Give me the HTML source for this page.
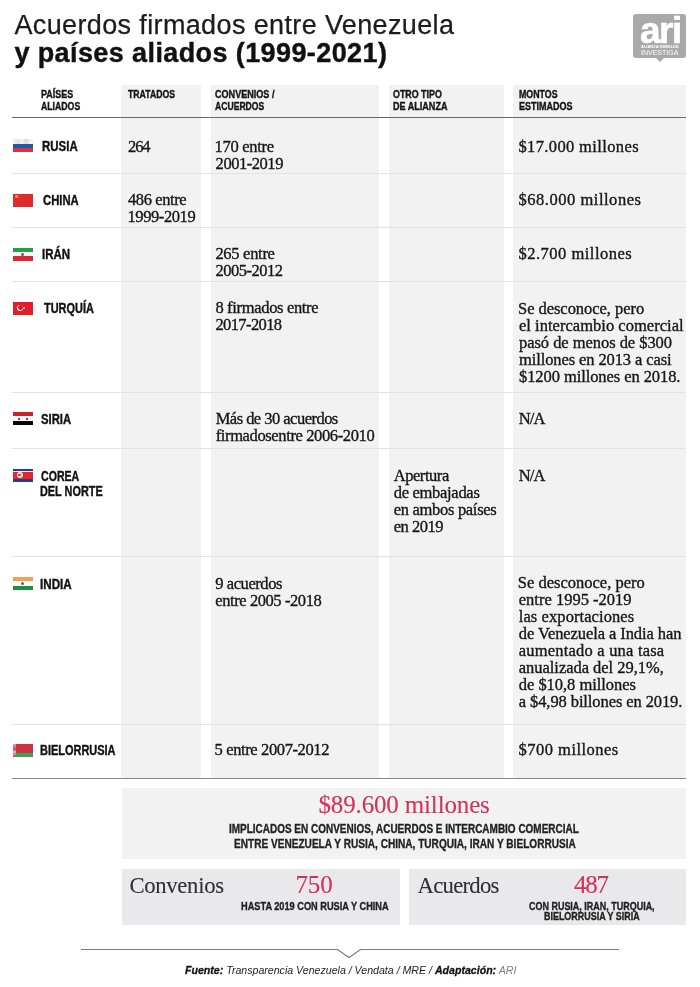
<!DOCTYPE html>
<html lang="es">
<head>
<meta charset="utf-8">
<title>Acuerdos firmados entre Venezuela y países aliados (1999-2021)</title>
<style>
*{margin:0;padding:0;box-sizing:border-box}
html,body{width:700px;height:987px;background:#fff;overflow:hidden}
body{position:relative;font-family:"Liberation Sans",Arial,sans-serif;color:#1a1a1a}
.abs{position:absolute}
.a{position:absolute;white-space:nowrap;transform-origin:0 0}
.col{position:absolute;top:85px;height:693px;background:#f2f2f2}
.hl{position:absolute;left:12px;width:674px}
.sep{height:1px;background:#e3e3e3}
.flag{position:absolute;left:13px;width:20px;height:13px;overflow:hidden}

.tx{font-family:"Liberation Serif","Times New Roman",serif;font-size:16.5px;line-height:20px;color:#161616;-webkit-text-stroke:.35px #161616}
.nm{font-family:"Liberation Sans",Arial,sans-serif;font-size:14px;line-height:18px;font-weight:bold;color:#111;-webkit-text-stroke:.4px #111}
.hd{font-family:"Liberation Sans",Arial,sans-serif;font-size:11px;line-height:14px;font-weight:bold;color:#161616;-webkit-text-stroke:.4px #161616}
.red{font-family:"Liberation Serif","Times New Roman",serif;font-size:25px;line-height:28px;color:#d63058;-webkit-text-stroke:.1px #d63058}
.big{font-family:"Liberation Serif","Times New Roman",serif;font-size:22.7px;line-height:26px;color:#303030;-webkit-text-stroke:.1px #303030}
.cap{font-family:"Liberation Sans",Arial,sans-serif;font-size:12.3px;line-height:14px;font-weight:bold;color:#222;-webkit-text-stroke:.35px #222}
.caps{font-family:"Liberation Sans",Arial,sans-serif;font-size:11px;line-height:13px;font-weight:bold;color:#222;-webkit-text-stroke:.35px #222}
.foot{font-family:"Liberation Sans",Arial,sans-serif;font-size:11.5px;line-height:14px;font-style:italic;color:#222}
.foot b{-webkit-text-stroke:.3px #111;color:#111}
.foot .ari{color:#808080}
.t1{font-family:"Liberation Sans",Arial,sans-serif;font-size:27px;line-height:30px;color:#1c1c1c;-webkit-text-stroke:.25px #1c1c1c}
.t2{font-family:"Liberation Sans",Arial,sans-serif;font-size:27px;line-height:30px;font-weight:bold;color:#111;-webkit-text-stroke:.4px #111}

</style>
</head>
<body>
<!-- logo -->
<div class="abs" style="left:633px;top:14px;width:53px;height:44px;background:#a9a9a9;border-radius:3px"></div>
<div class="abs" style="left:655px;top:57px;width:0;height:0;border-left:5px solid transparent;border-right:5px solid transparent;border-top:5px solid #a9a9a9"></div>
<div class="abs" style="left:640px;top:11.7px;font-size:37px;line-height:37px;font-weight:bold;color:#fff;letter-spacing:-1.5px;transform:scaleX(1);transform-origin:0 0;-webkit-text-stroke:.6px #fff">ari</div>
<div class="abs" style="left:641px;top:45px;font-size:4px;line-height:4px;font-weight:bold;color:#fff;white-space:nowrap">ALIANZA REBELDE</div>
<div class="abs" style="left:641px;top:49px;font-size:7px;line-height:7px;color:#fff;white-space:nowrap">INVESTIGA</div>

<!-- gray columns -->
<div class="col" style="left:121px;width:80px"></div>
<div class="col" style="left:211px;width:168px"></div>
<div class="col" style="left:389px;width:115px"></div>
<div class="col" style="left:513px;width:173px"></div>

<!-- lines -->
<div class="hl" style="top:116.7px;height:1.5px;background:#6a6a6a"></div>
<div class="hl sep" style="top:173px"></div>
<div class="hl sep" style="top:227px"></div>
<div class="hl sep" style="top:281px"></div>
<div class="hl sep" style="top:392px"></div>
<div class="hl sep" style="top:448px"></div>
<div class="hl sep" style="top:556px"></div>
<div class="hl sep" style="top:724px"></div>
<div class="hl" style="top:777.5px;height:1.5px;background:#888"></div>

<!-- flags -->
<div class="flag" style="top:139.3px;height:13.2px"><div style="height:4.4px;background:linear-gradient(90deg,#f2f2f2 0,#e4e4e4 30%,#f6f6f6 45%,#d8d8d8 65%,#f4f4f4 85%)"></div><div style="height:4.3px;background:#2157a7"></div><div style="height:4.5px;background:#d8313f"></div></div>
<div class="flag" style="top:193.6px;background:#dc2c2b"><div style="position:absolute;left:1.6px;top:1.8px;width:3px;height:3px;border-radius:50%;background:#f59a5a"></div><div style="position:absolute;left:4.8px;top:1.2px;width:1px;height:1px;background:#eb7a4a"></div><div style="position:absolute;left:5.6px;top:3px;width:1px;height:1px;background:#eb7a4a"></div></div>
<div class="flag" style="top:247.6px"><div style="height:4.2px;background:#26a048"></div><div style="height:4.4px;background:#f8f8f8;position:relative"><div style="position:absolute;left:8px;top:0.8px;width:3px;height:3px;background:#a85a6a;border-radius:1px"></div></div><div style="height:4.4px;background:#d62a36"></div></div>
<div class="flag" style="top:301.5px;background:#e21e2a"><div style="position:absolute;left:3.8px;top:3.3px;width:6px;height:6px;border-radius:50%;background:#fff"></div><div style="position:absolute;left:5.2px;top:3.9px;width:4.8px;height:4.8px;border-radius:50%;background:#c81a2c"></div><div style="position:absolute;left:10.2px;top:5.3px;width:2.3px;height:2.3px;border-radius:50%;background:#fbe3e3"></div></div>
<div class="flag" style="top:412.1px"><div style="height:4.3px;background:#c9232f"></div><div style="height:4.4px;background:#f7f7f7;position:relative"><div style="position:absolute;left:5px;top:1.3px;width:2px;height:2px;background:#556a55"></div><div style="position:absolute;left:13px;top:1.3px;width:2px;height:2px;background:#556a55"></div></div><div style="height:4.3px;background:#050505"></div></div>
<div class="flag" style="top:468.9px;height:12.7px;background:#233f8c"><div style="position:absolute;left:0;top:2.2px;width:20px;height:8.3px;background:#f3e6ea"></div><div style="position:absolute;left:0;top:2.9px;width:20px;height:6.9px;background:#e8242c"></div><div style="position:absolute;left:3.5px;top:3.3px;width:6px;height:6px;border-radius:50%;background:#f6e2e2"></div><div style="position:absolute;left:5.2px;top:5px;width:2.6px;height:2.6px;border-radius:50%;background:#c0303a"></div></div>
<div class="flag" style="top:577px;height:12.8px"><div style="height:4.3px;background:#f1a24e"></div><div style="height:4.3px;background:#fbfbfb;position:relative"><div style="position:absolute;left:7.8px;top:0.6px;width:3.2px;height:3.2px;border-radius:50%;background:#5a5e88"></div></div><div style="height:4.2px;background:#1f8f3d"></div></div>
<div class="flag" style="top:743.9px;height:12.9px"><div style="position:absolute;left:2.6px;top:0;width:17.4px;height:8.7px;background:#d0303f"></div><div style="position:absolute;left:2.6px;top:8.7px;width:17.4px;height:4.2px;background:#3fa452"></div><div style="position:absolute;left:0;top:0;width:2.6px;height:12.9px;background:linear-gradient(180deg,#e9a0a8,#c9505e 40%,#e6b0b6 60%,#c04858)"></div></div>

<!-- summary boxes -->
<div class="abs" style="left:121.5px;top:788px;width:564.5px;height:71px;background:#f2f2f2"></div>
<div class="abs" style="left:122px;top:869px;width:278px;height:56px;background:#e9e9eb"></div>
<div class="abs" style="left:409px;top:869px;width:277px;height:56px;background:#e9e9eb"></div>

<!-- footer rule -->
<svg class="abs" style="left:0;top:940px" width="700" height="22" viewBox="0 940 700 22"><polyline points="81,949.5 337.5,949.5 349,957.5 360.5,949.5 619,949.5" fill="none" stroke="#7a7a7a" stroke-width="1.2"/></svg>

<div class="a tx" style="left:128.00px;top:136.90px;letter-spacing:-1.100px">264</div>
<div class="a tx" style="left:128.00px;top:189.90px;letter-spacing:-0.400px">486 entre</div>
<div class="a tx" style="left:127.50px;top:207.00px;letter-spacing:-0.413px">1999-2019</div>
<div class="a tx" style="left:214.60px;top:136.60px;letter-spacing:-0.287px">170 entre</div>
<div class="a tx" style="left:215.60px;top:153.50px;letter-spacing:-0.463px">2001-2019</div>
<div class="a tx" style="left:215.40px;top:244.30px;letter-spacing:-0.287px">265 entre</div>
<div class="a tx" style="left:215.40px;top:261.30px;letter-spacing:-0.500px">2005-2012</div>
<div class="a tx" style="left:215.40px;top:298.20px;letter-spacing:-0.327px">8 firmados entre</div>
<div class="a tx" style="left:215.40px;top:315.10px;letter-spacing:-0.600px">2017-2018</div>
<div class="a tx" style="left:215.70px;top:408.80px;letter-spacing:-0.524px">Más de 30 acuerdos</div>
<div class="a tx" style="left:215.70px;top:425.70px;letter-spacing:-0.373px">firmadosentre 2006-2010</div>
<div class="a tx" style="left:215.30px;top:573.80px;letter-spacing:-0.433px">9 acuerdos</div>
<div class="a tx" style="left:215.30px;top:590.60px;letter-spacing:-0.420px">entre 2005 -2018</div>
<div class="a tx" style="left:214.60px;top:740.30px;letter-spacing:-0.381px">5 entre 2007-2012</div>
<div class="a tx" style="left:393.70px;top:465.60px;letter-spacing:-0.443px">Apertura</div>
<div class="a tx" style="left:393.70px;top:482.60px;letter-spacing:-0.291px">de embajadas</div>
<div class="a tx" style="left:393.70px;top:499.60px;letter-spacing:-0.300px">en ambos países</div>
<div class="a tx" style="left:393.70px;top:516.60px;letter-spacing:-0.467px">en 2019</div>
<div class="a tx" style="left:518.40px;top:136.50px;letter-spacing:0.373px">$17.000 millones</div>
<div class="a tx" style="left:518.40px;top:190.00px;letter-spacing:0.533px">$68.000 millones</div>
<div class="a tx" style="left:518.40px;top:244.00px;letter-spacing:0.500px">$2.700 millones</div>
<div class="a tx" style="left:518.00px;top:298.50px;letter-spacing:-0.041px">Se desconoce, pero</div>
<div class="a tx" style="left:519.00px;top:315.50px;letter-spacing:0.026px">el intercambio comercial</div>
<div class="a tx" style="left:519.00px;top:332.50px;letter-spacing:-0.045px">pasó de menos de $300</div>
<div class="a tx" style="left:519.00px;top:349.50px;letter-spacing:-0.105px">millones en 2013 a casi</div>
<div class="a tx" style="left:519.00px;top:366.50px;letter-spacing:-0.077px">$1200 millones en 2018.</div>
<div class="a tx" style="left:518.70px;top:409.20px;letter-spacing:-0.900px">N/A</div>
<div class="a tx" style="left:518.70px;top:465.70px;letter-spacing:-0.900px">N/A</div>
<div class="a tx" style="left:517.80px;top:572.50px;letter-spacing:0.000px">Se desconoce, pero</div>
<div class="a tx" style="left:518.80px;top:589.50px;letter-spacing:0.000px">entre 1995 -2019</div>
<div class="a tx" style="left:518.80px;top:606.50px;letter-spacing:0.081px">las exportaciones</div>
<div class="a tx" style="left:518.80px;top:623.50px;letter-spacing:-0.087px">de Venezuela a India han</div>
<div class="a tx" style="left:518.80px;top:640.50px;letter-spacing:0.200px">aumentado a una tasa</div>
<div class="a tx" style="left:518.80px;top:657.50px;letter-spacing:-0.035px">anualizada del 29,1%,</div>
<div class="a tx" style="left:518.80px;top:674.50px;letter-spacing:-0.037px">de $10,8 millones</div>
<div class="a tx" style="left:518.80px;top:691.50px;letter-spacing:-0.096px">a $4,98 billones en 2019.</div>
<div class="a tx" style="left:518.60px;top:740.20px;letter-spacing:0.475px">$700 millones</div>
<div class="a nm" style="left:41.78px;top:137.40px;transform:scaleX(0.8190)">RUSIA</div>
<div class="a nm" style="left:42.60px;top:191.00px;transform:scaleX(0.8045)">CHINA</div>
<div class="a nm" style="left:41.78px;top:245.00px;transform:scaleX(0.8182)">IRÁN</div>
<div class="a nm" style="left:43.60px;top:299.40px;transform:scaleX(0.7812)">TURQUÍA</div>
<div class="a nm" style="left:41.20px;top:410.00px;transform:scaleX(0.8054)">SIRIA</div>
<div class="a nm" style="left:41.20px;top:466.60px;transform:scaleX(0.7560)">COREA</div>
<div class="a nm" style="left:40.42px;top:481.60px;transform:scaleX(0.7772)">DEL NORTE</div>
<div class="a nm" style="left:40.37px;top:575.00px;transform:scaleX(0.8324)">INDIA</div>
<div class="a nm" style="left:40.42px;top:741.00px;transform:scaleX(0.7832)">BIELORRUSIA</div>
<div class="a hd" style="left:41.40px;top:86.50px;transform:scaleX(0.8150)">PAÍSES</div>
<div class="a hd" style="left:41.40px;top:99.30px;transform:scaleX(0.7920)">ALIADOS</div>
<div class="a hd" style="left:127.80px;top:86.60px;transform:scaleX(0.7900)">TRATADOS</div>
<div class="a hd" style="left:215.00px;top:86.60px;transform:scaleX(0.8236)">CONVENIOS /</div>
<div class="a hd" style="left:215.00px;top:99.20px;transform:scaleX(0.7825)">ACUERDOS</div>
<div class="a hd" style="left:393.30px;top:86.60px;transform:scaleX(0.8067)">OTRO TIPO</div>
<div class="a hd" style="left:393.30px;top:99.20px;transform:scaleX(0.8227)">DE ALIANZA</div>
<div class="a hd" style="left:518.60px;top:86.60px;transform:scaleX(0.8021)">MONTOS</div>
<div class="a hd" style="left:518.60px;top:99.20px;transform:scaleX(0.8200)">ESTIMADOS</div>
<div class="a red" style="left:318.50px;top:791.10px;letter-spacing:-0.153px">$89.600 millones</div>
<div class="a cap" style="left:229.10px;top:822.00px;transform:scaleX(0.8109)">IMPLICADOS EN CONVENIOS, ACUERDOS E INTERCAMBIO COMERCIAL</div>
<div class="a cap" style="left:233.70px;top:837.00px;transform:scaleX(0.8201)">ENTRE VENEZUELA Y RUSIA, CHINA, TURQUIA, IRAN Y BIELORRUSIA</div>
<div class="a big" style="left:129.40px;top:873.00px;letter-spacing:-0.300px">Convenios</div>
<div class="a red" style="left:295.40px;top:870.80px;letter-spacing:-0.050px">750</div>
<div class="a caps" style="left:240.80px;top:899.80px;transform:scaleX(0.8369)">HASTA 2019 CON RUSIA Y CHINA</div>
<div class="a big" style="left:417.60px;top:873.00px;letter-spacing:-0.743px">Acuerdos</div>
<div class="a red" style="left:573.90px;top:870.60px;letter-spacing:-1.150px">487</div>
<div class="a caps" style="left:529.20px;top:899.90px;transform:scaleX(0.8156)">CON RUSIA, IRAN, TURQUIA,</div>
<div class="a caps" style="left:544.30px;top:910.40px;transform:scaleX(0.8127)">BIELORRUSIA Y SIRIA</div>
<div class="a foot" style="left:184.60px;top:963.00px;transform:scaleX(0.9214)"><b>Fuente:</b> Transparencia Venezuela / Vendata / MRE / <b>Adaptación:</b> <span class="ari">ARI</span></div>
<div class="a t1" style="left:14.40px;top:10.00px;letter-spacing:0.369px">Acuerdos firmados entre Venezuela</div>
<div class="a t2" style="left:14.40px;top:38.00px;letter-spacing:0.400px">y países aliados (1999-2021)</div>
</body>
</html>
